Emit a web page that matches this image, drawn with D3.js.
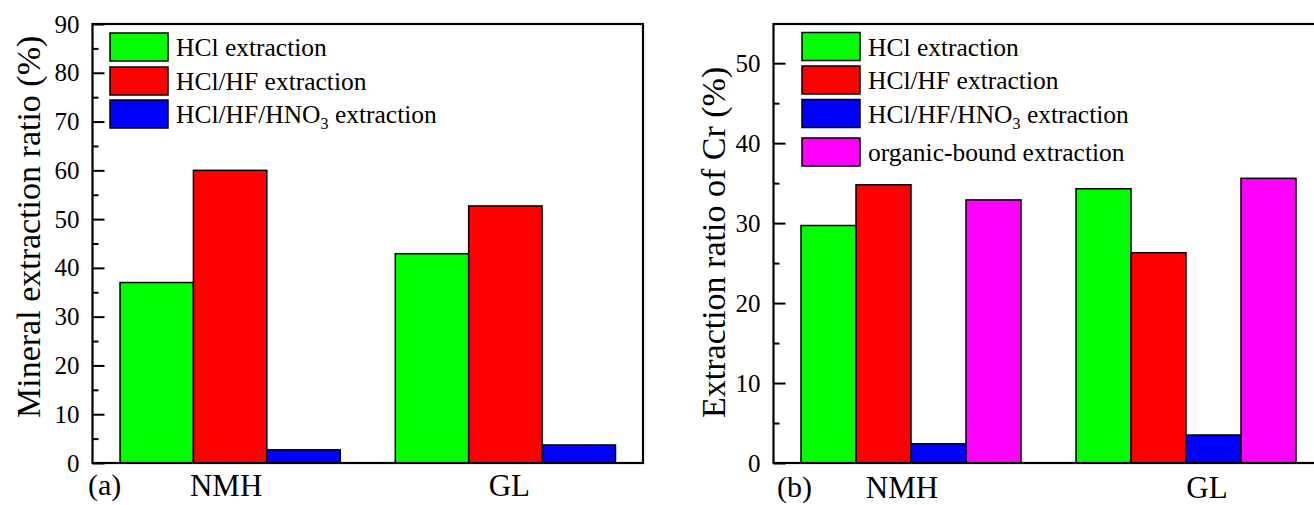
<!DOCTYPE html>
<html>
<head>
<meta charset="utf-8">
<script src="https://cdn.jsdelivr.net/npm/d3@7"></script>
<style>
    body { margin: 0; background: #fff; }
    text { font-family: "Liberation Serif", "Times New Roman", serif; fill: #000; }
</style>
</head>
<body>
<script>
// categories and values
var groups = ["NMH", "GL"];
var seriesA = ["HCl extraction", "HCl/HF extraction", "HCl/HF/HNO3 extraction"];
var seriesB = ["HCl extraction", "HCl/HF extraction", "HCl/HF/HNO3 extraction", "organic-bound extraction"];

// (a) mineral extraction ratio
var mineralHCl = [37.0, 42.9];
var mineralHClHF = [60.0, 52.7];
var mineralHClHFHNO3 = [2.7, 3.7];

// (b) extraction ratio of Cr
var crHCl = [29.7, 34.3];
var crHClHF = [34.8, 26.3];
var crHClHFHNO3 = [2.4, 3.5];
var crOrganic = [32.9, 35.6];

var yTicksA = [0, 10, 20, 30, 40, 50, 60, 70, 80, 90];
var yMinorA = [5, 15, 25, 35, 45, 55, 65, 75, 85];
var yTicksB = [0, 10, 20, 30, 40, 50];
var yMinorB = [5, 15, 25, 35, 45];

var colors = ["#00ff00", "#ff0000", "#0000ff", "#ff00ff"];

var w = 1314;
var h = 505;

var svg = d3.select("body")
    .append("svg")
    .attr("width", w)
    .attr("height", h);

svg.append("rect")
    .attr("width", w)
    .attr("height", h)
    .attr("fill", "#fff");

function drawPanel(opt) {
    var g = svg.append("g");

    var x0 = d3.scaleBand()
        .domain(groups)
        .range([opt.left, opt.right])
        .padding(0);

    var x1 = d3.scaleBand()
        .domain(opt.series)
        .range([x0.bandwidth() * 0.1, x0.bandwidth() * 0.9])
        .padding(0);

    var y = d3.scaleLinear()
        .domain(opt.yDomain)
        .range([opt.bottom, opt.top]);

    // bars
    opt.values.forEach(function (vals, si) {
        g.selectAll(".bar" + si)
            .data(vals)
            .enter()
            .append("rect")
            .attr("x", function (d, i) { return x0(groups[i]) + x1(opt.series[si]); })
            .attr("y", function (d) { return y(d); })
            .attr("width", x1.bandwidth())
            .attr("height", function (d) { return y(0) - y(d); })
            .attr("fill", colors[si])
            .attr("stroke", "#000")
            .attr("stroke-width", 1.5);
    });

    // frame
    g.append("rect")
        .attr("x", opt.left)
        .attr("y", opt.top)
        .attr("width", opt.right - opt.left)
        .attr("height", opt.bottom - opt.top)
        .attr("fill", "none")
        .attr("stroke", "#000")
        .attr("stroke-width", 2.2);

    // y axis, ticks pointing inward
    var yAxis = d3.axisLeft(y)
        .tickValues(opt.yTicks)
        .tickSize(-12)
        .tickPadding(13);

    var ya = g.append("g")
        .attr("transform", "translate(" + opt.left + ",0)")
        .call(yAxis);
    ya.attr("font-family", null);
    ya.select(".domain").remove();
    ya.selectAll("line").attr("stroke", "#000").attr("stroke-width", 2);
    ya.selectAll("text")
        .style("font-size", "25px")
        .style("font-family", "'Liberation Serif', serif");

    var ym = g.append("g")
        .attr("transform", "translate(" + opt.left + ",0)")
        .call(d3.axisLeft(y).tickValues(opt.yMinor).tickSize(-6).tickFormat(""));
    ym.select(".domain").remove();
    ym.selectAll("line").attr("stroke", "#000").attr("stroke-width", 2);

    // y title
    g.append("text")
        .attr("transform", "translate(" + opt.titleX + ",418) rotate(-90)")
        .attr("text-anchor", "start")
        .style("font-size", "34px")
        .text(opt.yTitle);

    // category labels
    g.selectAll(".cat")
        .data(groups)
        .enter()
        .append("text")
        .attr("x", function (d, i) { return x0(d) + x0.bandwidth() / 2 + opt.catShift[i]; })
        .attr("y", opt.catY)
        .attr("text-anchor", "middle")
        .style("font-size", "31px")
        .text(function (d) { return d; });

    // panel letter
    g.append("text")
        .attr("x", opt.letterX)
        .attr("y", opt.catY - 1)
        .style("font-size", "30px")
        .text(opt.letter);

    // legend
    var leg = g.selectAll(".leg")
        .data(opt.series)
        .enter()
        .append("g")
        .attr("transform", function (d, i) { return "translate(" + opt.legX + "," + opt.legY[i] + ")"; });

    leg.append("rect")
        .attr("width", 58)
        .attr("height", 28)
        .attr("fill", function (d, i) { return colors[i]; })
        .attr("stroke", "#000")
        .attr("stroke-width", 1.5);

    var lt = leg.append("text")
        .attr("x", 66)
        .attr("y", 23)
        .style("font-size", "25.5px");

    lt.each(function (d) {
        var t = d3.select(this);
        var m = d.match(/^(.*HNO)3(.*)$/);
        if (m) {
            t.append("tspan").text(m[1]);
            t.append("tspan")
                .attr("dy", 6)
                .style("font-size", "16px")
                .text("3");
            t.append("tspan").attr("dy", -6).text(m[2]);
        } else {
            t.text(d);
        }
    });
}

drawPanel({
    left: 92.5,
    right: 643,
    top: 24,
    bottom: 463,
    yDomain: [0, 90],
    yTicks: yTicksA,
    yMinor: yMinorA,
    series: seriesA,
    values: [mineralHCl, mineralHClHF, mineralHClHFHNO3],
    yTitle: "Mineral extraction ratio (%)",
    titleX: 40,
    catShift: [-4, 4],
    catY: 496,
    letter: "(a)",
    letterX: 88,
    legX: 110,
    legY: [33, 67, 100]
});

drawPanel({
    left: 773.5,
    right: 1323.5,
    top: 24,
    bottom: 463,
    yDomain: [0, 54.9],
    yTicks: yTicksB,
    yMinor: yMinorB,
    series: seriesB,
    values: [crHCl, crHClHF, crHClHFHNO3, crOrganic],
    yTitle: "Extraction ratio of Cr (%)",
    titleX: 725,
    catShift: [-9, 21],
    catY: 498,
    letter: "(b)",
    letterX: 777,
    legX: 802,
    legY: [32.5, 66, 99.5, 138]
});
</script>
</body>
</html>
